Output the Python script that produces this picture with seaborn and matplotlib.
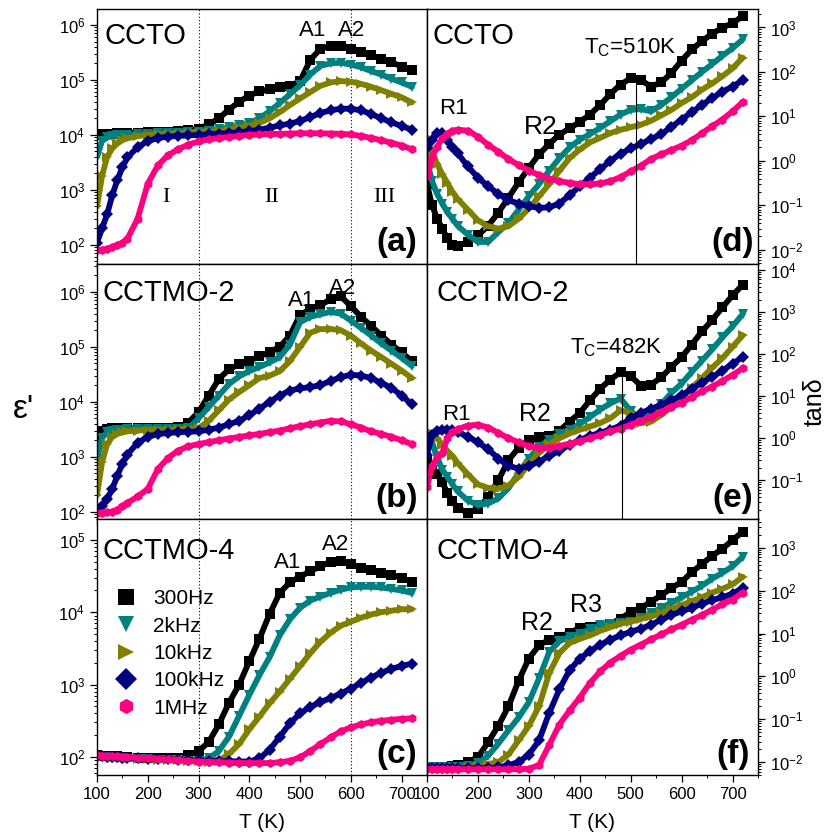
import numpy as np
import pandas as pd
import matplotlib
matplotlib.use("Agg")
import matplotlib.pyplot as plt
import seaborn as sns
from matplotlib.lines import Line2D
from matplotlib.ticker import MultipleLocator, LogLocator, NullFormatter

# ---------------- data ----------------
T = [100, 110, 120, 130, 140, 150, 160, 180, 200, 220, 240, 260, 280, 300,
     320, 340, 360, 380, 400, 420, 440, 460, 480, 500, 520, 540, 560, 580,
     600, 620, 640, 660, 680, 700, 720]

freq_labels = ["300Hz", "2kHz", "10kHz", "100kHz", "1MHz"]
colors = ["#000000", "#008080", "#808000", "#000080", "#FF0080"]
markers = ["s", "v", ">", "D", "h"]

# (a) CCTO permittivity
a_300 = [1.0e4, 1.02e4, 1.05e4, 1.05e4, 1.07e4, 1.08e4, 1.1e4, 1.1e4, 1.12e4, 1.13e4, 1.15e4, 1.18e4, 1.22e4, 1.3e4,
         1.55e4, 2.0e4, 2.9e4, 4.0e4, 5.2e4, 6.2e4, 6.8e4, 7.3e4, 7.8e4, 9.5e4, 2.3e5, 3.7e5, 4.1e5, 4.1e5,
         3.7e5, 3.2e5, 2.8e5, 2.4e5, 2.1e5, 1.75e5, 1.5e5]
a_2k = [4.0e3, 7.8e3, 9.0e3, 9.5e3, 9.8e3, 1.0e4, 1.0e4, 1.02e4, 1.05e4, 1.07e4, 1.08e4, 1.1e4, 1.12e4, 1.15e4,
        1.2e4, 1.28e4, 1.38e4, 1.5e4, 1.65e4, 2.0e4, 2.7e4, 3.8e4, 5.5e4, 8e4, 1.25e5, 1.8e5, 2.0e5, 2.05e5,
        1.9e5, 1.7e5, 1.45e5, 1.25e5, 1.05e5, 9e4, 7.5e4]
a_10k = [5e2, 1.8e3, 4e3, 5.7e3, 7e3, 8e3, 8.7e3, 9.5e3, 1.0e4, 1.02e4, 1.04e4, 1.06e4, 1.08e4, 1.1e4,
         1.13e4, 1.18e4, 1.25e4, 1.35e4, 1.45e4, 1.65e4, 2.0e4, 2.6e4, 3.5e4, 4.6e4, 6e4, 7.8e4, 9e4, 9.5e4,
         9.3e4, 8.5e4, 7.5e4, 6.5e4, 5.6e4, 4.8e4, 3.9e4]
a_100k = [110, 200, 360, 800, 1.5e3, 2.6e3, 3.9e3, 6e3, 7.7e3, 8.8e3, 9.3e3, 9.6e3, 9.8e3, 1.0e4,
          1.02e4, 1.05e4, 1.08e4, 1.12e4, 1.17e4, 1.25e4, 1.35e4, 1.5e4, 1.6e4, 1.8e4, 2.1e4, 2.5e4, 2.8e4, 3.0e4,
          3.0e4, 2.8e4, 2.4e4, 2.0e4, 1.7e4, 1.45e4, 1.25e4]
a_1M = [80, 82, 85, 90, 98, 110, 130, 300, 1.3e3, 2.8e3, 4.3e3, 5.5e3, 6.7e3, 7.6e3,
        8.3e3, 8.8e3, 9.2e3, 9.6e3, 1.0e4, 1.02e4, 1.04e4, 1.05e4, 1.06e4, 1.07e4, 1.07e4, 1.07e4, 1.06e4, 1.05e4,
        1.02e4, 9.6e3, 8.8e3, 8e3, 7.2e3, 6.4e3, 5.5e3]

# (b) CCTMO-2 permittivity
b_300 = [2.2e3, 3.0e3, 3.2e3, 3.3e3, 3.3e3, 3.3e3, 3.3e3, 3.3e3, 3.3e3, 3.3e3, 3.3e3, 3.5e3, 4.2e3, 6.5e3,
         1.3e4, 2.6e4, 3.9e4, 4.8e4, 5.6e4, 6.7e4, 8.0e4, 1.0e5, 1.6e5, 3.8e5, 4.8e5, 5.7e5, 7.3e5, 8.3e5,
         5.5e5, 3.5e5, 2.4e5, 1.6e5, 1.1e5, 7.9e4, 5.5e4]
b_2k = [9e2, 2.2e3, 2.8e3, 3.0e3, 3.1e3, 3.1e3, 3.2e3, 3.2e3, 3.2e3, 3.2e3, 3.2e3, 3.2e3, 3.3e3, 5.0e3,
        8e3, 1.3e4, 2.1e4, 2.9e4, 3.6e4, 4.3e4, 5.2e4, 6.5e4, 1.1e5, 2.8e5, 3.5e5, 3.9e5, 4.3e5, 4.0e5,
        3.0e5, 2.2e5, 1.6e5, 1.15e5, 8.5e4, 6.3e4, 4.5e4]
b_10k = [2e2, 8e2, 1.7e3, 2.3e3, 2.6e3, 2.8e3, 2.9e3, 3.0e3, 3.1e3, 3.1e3, 3.1e3, 3.2e3, 3.2e3, 3.3e3,
         4.5e3, 7e3, 1.1e4, 1.5e4, 2.0e4, 2.7e4, 3.0e4, 3.6e4, 5.5e4, 1.0e5, 1.8e5, 2.1e5, 2.1e5, 2.0e5,
         1.6e5, 1.15e5, 8.5e4, 6.5e4, 4.9e4, 3.7e4, 2.7e4]
b_100k = [110, 130, 170, 260, 450, 750, 1.1e3, 1.8e3, 2.3e3, 2.6e3, 2.7e3, 2.8e3, 2.85e3, 2.9e3,
          3.1e3, 3.4e3, 3.9e3, 4.5e3, 5.7e3, 7.5e3, 1.0e4, 1.3e4, 1.6e4, 1.75e4, 1.85e4, 2.0e4, 2.4e4, 2.8e4,
          3.1e4, 3.0e4, 2.7e4, 2.2e4, 1.8e4, 1.3e4, 9e3]
b_1M = [95, 97, 98, 100, 110, 125, 145, 190, 260, 600, 950, 1.3e3, 1.55e3, 1.7e3,
        1.85e3, 2.0e3, 2.15e3, 2.3e3, 2.45e3, 2.6e3, 2.8e3, 3.0e3, 3.3e3, 3.6e3, 3.9e3, 4.2e3, 4.5e3, 4.4e3,
        3.9e3, 3.4e3, 2.9e3, 2.6e3, 2.3e3, 2.0e3, 1.7e3]

# (c) CCTMO-4 permittivity
c_300 = [105, 104, 103, 102, 101, 100, 99, 97, 96, 95, 95, 97, 105, 120,
         160, 280, 560, 1.0e3, 2.1e3, 4.3e3, 9.5e3, 1.85e4, 2.6e4, 3.1e4, 3.7e4, 4.3e4, 5.0e4, 5.1e4,
         4.6e4, 4.1e4, 3.8e4, 3.5e4, 3.3e4, 3.0e4, 2.6e4]
c_2k = [100, 99, 98, 97, 96, 95, 94, 93, 92, 91, 90, 89, 88, 88,
        95, 120, 190, 370, 720, 1.35e3, 2.4e3, 4.8e3, 8e3, 1.15e4, 1.45e4, 1.65e4, 1.85e4, 2.05e4,
        2.2e4, 2.25e4, 2.25e4, 2.2e4, 2.1e4, 2.0e4, 1.85e4]
c_10k = [100, 99, 98, 97, 96, 95, 94, 93, 92, 91, 90, 89, 88, 87,
         86, 88, 110, 150, 240, 360, 550, 800, 1.2e3, 1.8e3, 2.7e3, 3.9e3, 5.2e3, 6.5e3,
         7.4e3, 8.4e3, 9.3e3, 1.0e4, 1.05e4, 1.1e4, 1.1e4]
c_100k = [102, 101, 100, 99, 98, 97, 96, 95, 94, 93, 92, 91, 90, 89,
          88, 87, 87, 86, 86, 95, 125, 190, 290, 400, 490, 570, 650, 750,
          880, 1.05e3, 1.25e3, 1.45e3, 1.65e3, 1.8e3, 1.95e3]
c_1M = [105, 104, 103, 102, 101, 100, 99, 97, 95, 93, 92, 90, 88, 86,
        85, 84, 83, 82, 82, 82, 82, 84, 88, 98, 120, 150, 185, 225,
        255, 280, 300, 315, 325, 335, 340]

# (d) CCTO loss tangent
d_300 = [0.3, 0.1, 0.05, 0.03, 0.018, 0.013, 0.012, 0.015, 0.021, 0.035, 0.068, 0.15, 0.33, 0.7,
         1.4, 2.4, 3.9, 5.4, 7.5, 11, 18, 32, 52, 72, 65, 47, 58, 95,
         180, 320, 490, 730, 980, 1.25e3, 1.8e3]
d_2k = [1.0, 0.35, 0.18, 0.11, 0.07, 0.05, 0.035, 0.022, 0.015, 0.015, 0.025, 0.04, 0.08, 0.16,
        0.3, 0.6, 1.15, 2.0, 3.0, 4.0, 5.5, 7.8, 11, 14, 14.5, 13, 18, 27,
        42, 65, 100, 150, 230, 340, 540]
d_10k = [3.3, 1.6, 0.85, 0.5, 0.32, 0.2, 0.14, 0.08, 0.046, 0.034, 0.03, 0.034, 0.05, 0.085,
         0.16, 0.3, 0.6, 1.15, 1.8, 2.6, 3.3, 4.2, 5.0, 5.7, 6.5, 8, 10.5, 14,
         20, 27, 40, 55, 80, 120, 210]
d_100k = [1.9, 3.0, 4.3, 4.3, 3.0, 2.0, 1.5, 0.75, 0.42, 0.27, 0.18, 0.13, 0.11, 0.095,
          0.088, 0.09, 0.11, 0.17, 0.27, 0.42, 0.65, 1.0, 1.45, 1.9, 2.4, 3.1, 4.0, 5.8,
          8.5, 12.5, 18, 26, 36, 47, 65]
d_1M = [0.45, 1.2, 2.1, 3.2, 4.0, 4.8, 5.0, 4.8, 3.5, 2.3, 1.6, 1.1, 0.8, 0.6,
        0.48, 0.4, 0.35, 0.32, 0.3, 0.3, 0.31, 0.35, 0.43, 0.58, 0.78, 1.1, 1.4, 1.75,
        2.2, 2.9, 4.2, 6, 8.5, 13, 21]

# (e) CCTMO-2 loss tangent
e_300 = [0.3, 0.18, 0.14, 0.09, 0.05, 0.032, 0.022, 0.017, 0.021, 0.04, 0.1, 0.3, 0.6, 0.9,
         1.05, 1.15, 1.5, 2.5, 4.0, 8, 15, 25, 37, 30, 18, 19, 28, 50,
         85, 170, 350, 650, 1.3e3, 2.5e3, 4.5e3]
e_2k = [0.8, 0.8, 0.35, 0.18, 0.12, 0.08, 0.055, 0.033, 0.026, 0.028, 0.037, 0.065, 0.15, 0.33,
        0.62, 0.93, 1.25, 1.6, 2.2, 3.2, 4.8, 6.8, 8.8, 4.5, 2.7, 3.6, 6.5, 12,
        20, 38, 70, 130, 250, 460, 900]
e_10k = [1.3, 1.3, 1.0, 0.7, 0.5, 0.38, 0.26, 0.14, 0.08, 0.066, 0.063, 0.075, 0.12, 0.24,
         0.45, 0.72, 1.0, 1.3, 1.6, 1.9, 2.3, 3.0, 4.6, 4.0, 2.3, 2.5, 3.6, 5.5,
         9, 16, 27, 48, 80, 150, 280]
e_100k = [0.4, 1.2, 1.5, 1.6, 1.6, 1.55, 1.4, 1.1, 0.8, 0.55, 0.33, 0.22, 0.19, 0.22,
          0.28, 0.38, 0.5, 0.7, 0.9, 1.15, 1.35, 1.6, 2.0, 3.0, 4.0, 5.0, 6.3, 8,
          10.5, 15, 21, 29, 40, 60, 85]
e_1M = [0.07, 0.22, 0.35, 0.45, 1.0, 1.4, 1.65, 2.0, 2.1, 1.8, 1.35, 1.0, 0.8, 0.65,
        0.6, 0.6, 0.65, 0.75, 0.85, 1.0, 1.2, 1.45, 1.7, 2.1, 2.6, 3.2, 4.2, 5.5,
        7, 9.5, 13, 17, 23, 32, 46]

# (f) CCTMO-4 loss tangent
f_300 = [0.0075, 0.0075, 0.0075, 0.0076, 0.0077, 0.008, 0.0085, 0.01, 0.013, 0.029, 0.07, 0.2, 0.8, 2.6,
         5.3, 7.2, 8.3, 10.5, 13.5, 14, 14.5, 17, 22, 32, 40, 55, 78, 115,
         160, 270, 420, 650, 950, 1.5e3, 2.4e3]
f_2k = [0.0075, 0.0075, 0.0075, 0.0075, 0.0075, 0.0075, 0.0075, 0.008, 0.0095, 0.014, 0.027, 0.055, 0.11, 0.25,
        0.9, 3.7, 6.6, 8.5, 10, 12.5, 15.5, 17, 17.5, 19, 23, 30, 40, 52,
        70, 95, 130, 190, 260, 370, 620]
f_10k = [0.0072, 0.0072, 0.0072, 0.0072, 0.0072, 0.0072, 0.0073, 0.0075, 0.008, 0.009, 0.01, 0.015, 0.032, 0.07,
         0.2, 1.2, 3.5, 6, 7.5, 9, 11.5, 14, 17, 19, 22, 25, 30, 37,
         46, 57, 70, 90, 110, 140, 210]
f_100k = [0.0072, 0.0072, 0.0072, 0.0072, 0.0072, 0.0072, 0.0072, 0.0072, 0.0072, 0.0072, 0.0075, 0.0085, 0.01, 0.015,
          0.032, 0.14, 0.5, 1.4, 2.6, 3.9, 5.4, 7.2, 9, 11, 13, 16, 21, 27,
          33, 40, 50, 60, 70, 85, 115]
f_1M = [0.0068, 0.0068, 0.0068, 0.0068, 0.0068, 0.0068, 0.0068, 0.0068, 0.0068, 0.0068, 0.0068, 0.0068, 0.0068, 0.007,
        0.0085, 0.025, 0.075, 0.16, 0.32, 0.7, 1.3, 2.1, 3.0, 4.2, 5.5, 7.3, 9.5, 12.5,
        16, 21, 27, 36, 48, 62, 90]

sample_names = ["CCTO", "CCTMO-2", "CCTMO-4"]
panel_tags = ["(a)", "(b)", "(c)", "(d)", "(e)", "(f)"]
region_T = [300, 600]            # dotted region borders (left column)
region_names = ["I", "II", "III"]
tc_T = [510, 482]                # Curie temperatures (d, e)
tc_top = [72, 37]                # tan(delta) at T_C peak

# ---------------- style ----------------
sns.set_style("ticks")
plt.rcParams["font.family"] = ["Liberation Sans", "DejaVu Sans"]
plt.rcParams["mathtext.fontset"] = "custom"
plt.rcParams["mathtext.rm"] = "Liberation Sans"
plt.rcParams["mathtext.it"] = "Liberation Sans:italic"
plt.rcParams["mathtext.bf"] = "Liberation Sans:bold"
plt.rcParams["axes.unicode_minus"] = False
for key in ["text.color", "axes.labelcolor", "xtick.color", "ytick.color", "axes.edgecolor"]:
    plt.rcParams[key] = "black"

W = 836
fig = plt.figure(figsize=(8.36, 8.36), dpi=100)


def box(x0, y0, x1, y1):
    return [x0 / W, 1 - y1 / W, (x1 - x0) / W, (y1 - y0) / W]


def ftext(x, y, s, **kw):
    kw.setdefault("ha", "center")
    kw.setdefault("va", "center")
    kw.setdefault("color", "black")
    fig.text(x / W, 1 - y / W, s, **kw)


rows = [(9, 264), (264, 519), (519, 775)]
cols = [(97, 427), (427, 758)]

left_series = [[a_300, a_2k, a_10k, a_100k, a_1M],
               [b_300, b_2k, b_10k, b_100k, b_1M],
               [c_300, c_2k, c_10k, c_100k, c_1M]]
right_series = [[d_300, d_2k, d_10k, d_100k, d_1M],
                [e_300, e_2k, e_10k, e_100k, e_1M],
                [f_300, f_2k, f_10k, f_100k, f_1M]]
left_ylim = [(45, 1.95e6), (74, 3.2e6), (56, 1.95e5)]
right_ylim = [(4.8e-3, 2.6e3), (0.012, 1.4e4), (5e-3, 4.7e3)]

axes = {}
for ci, (series_set, ylims) in enumerate([(left_series, left_ylim), (right_series, right_ylim)]):
    for ri in range(3):
        ax = fig.add_axes(box(cols[ci][0], rows[ri][0], cols[ci][1], rows[ri][1]))
        axes[(ri, ci)] = ax
        for vals, col, mk, lab in zip(series_set[ri], colors, markers, freq_labels):
            df = pd.DataFrame({"T": T, "v": vals})
            sns.lineplot(data=df, x="T", y="v", ax=ax, color=col, marker=mk,
                         markersize=6.5, markeredgewidth=0, linewidth=4.2,
                         legend=False, sort=False)
        ax.set_yscale("log")
        ax.set_xlim(100, 750)
        ax.set_ylim(*ylims[ri])
        ax.xaxis.set_major_locator(MultipleLocator(100))
        ax.xaxis.set_minor_locator(MultipleLocator(50))
        ax.yaxis.set_major_locator(LogLocator(base=10, numticks=20))
        ax.yaxis.set_minor_locator(LogLocator(base=10, subs=np.arange(2, 10), numticks=20))
        ax.yaxis.set_minor_formatter(NullFormatter())
        ax.set_xlabel("")
        ax.set_ylabel("")
        ax.tick_params(which="major", direction="out", length=5, width=0.9, labelsize=12, colors="black")
        ax.tick_params(which="minor", direction="out", length=2.5, width=0.7, colors="black")
        if ri < 2:
            ax.tick_params(axis="x", labelbottom=False)
        if ci == 1:
            ax.yaxis.tick_right()
        for sp in ax.spines.values():
            sp.set_linewidth(1.0)
            sp.set_color("black")
        if ci == 0:
            for xv in region_T:
                ax.axvline(xv, color="black", ls=(0, (1, 2)), lw=0.8, zorder=0)

# T_C markers
for ri, (tc, top) in enumerate(zip(tc_T, tc_top)):
    ax = axes[(ri, 1)]
    ax.vlines(tc, right_ylim[ri][0], top, color="black", lw=0.8)

# legend in (c)
handles = [Line2D([], [], marker=m, color=c, ls="None", markersize=11, markeredgewidth=0)
           for m, c in zip(markers, colors)]
axes[(2, 0)].legend(handles, freq_labels, loc="upper left", bbox_to_anchor=(0.05, 0.725),
                    frameon=False, fontsize=15, handlelength=1.2, handletextpad=0.7,
                    labelspacing=0.4, borderpad=0, borderaxespad=0)

# sample names
for (x, y), name in zip([(104, 36), (102, 293), (102, 551)], sample_names):
    ftext(x, y, name, ha="left", fontsize=21)
for (x, y), name in zip([(433, 36), (437, 293), (437, 551)], sample_names):
    ftext(x, y, name, ha="left", fontsize=21)

# panel tags
for (x, y), tag in zip([(397, 243), (397, 498), (397, 754), (733, 243), (733, 498), (733, 754)], panel_tags):
    ftext(x, y, tag, fontsize=24, fontweight="bold")

# region labels
for x, s in zip([166, 272, 384], region_names):
    ftext(x, 197, s, fontsize=16, family="Liberation Serif")

# peak labels
ftext(313, 31, "A1", fontsize=16)
ftext(352, 31, "A2", fontsize=16)
ftext(302, 300, "A1", fontsize=16)
ftext(343, 288, "A2", fontsize=16)
ftext(288, 562, "A1", fontsize=16)
ftext(336, 545, "A2", fontsize=16)
ftext(453, 109, "R1", fontsize=16)
ftext(541, 127, "R2", fontsize=19)
ftext(456, 414, "R1", fontsize=16)
ftext(535, 414, "R2", fontsize=18)
ftext(537, 623, "R2", fontsize=18)
ftext(586, 605, "R3", fontsize=18)
ftext(630, 48, r"T$_\mathrm{C}$=510K", fontsize=16)
ftext(616, 348, r"T$_\mathrm{C}$=482K", fontsize=16)

# axis titles
ftext(262, 822, "T (K)", fontsize=15)
ftext(592, 822, "T (K)", fontsize=15)
ftext(24, 410, "ε'", fontsize=24)
ftext(815, 402, "tanδ", fontsize=18, rotation=90)

fig.savefig("out.png", dpi=100)
